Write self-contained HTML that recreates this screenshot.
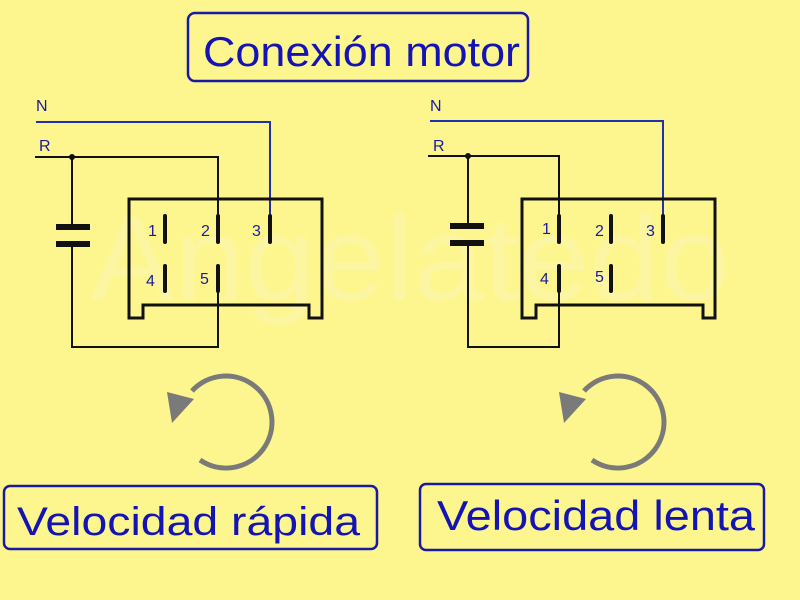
<!DOCTYPE html>
<html><head><meta charset="utf-8"><style>html,body{margin:0;padding:0;background:#fdf68e;}svg{display:block}</style></head><body>
<svg width="800" height="600" viewBox="0 0 800 600" xmlns="http://www.w3.org/2000/svg">
<rect width="800" height="600" fill="#fdf68e"/>
<text x="90" y="300" font-family="Liberation Sans, sans-serif" font-size="120" fill="#fcf6a2" textLength="640" lengthAdjust="spacingAndGlyphs">Angelatedo</text>
<!-- title -->
<rect x="188" y="13" width="340" height="68" rx="7" fill="none" stroke="#1a1aa0" stroke-width="2.5"/>
<text x="203" y="66" font-family="Liberation Sans, sans-serif" font-size="42" fill="#1414b4" textLength="317" lengthAdjust="spacingAndGlyphs">Conexión motor</text>
<g font-family="Liberation Sans, sans-serif" font-size="16" fill="#1a1aa0">
<text x="36" y="111">N</text><text x="39" y="151">R</text>
<text x="430" y="111">N</text><text x="433" y="151">R</text>
<text x="148" y="236">1</text><text x="201" y="236">2</text><text x="252" y="236">3</text>
<text x="146" y="286">4</text><text x="200" y="284">5</text>
<text x="542" y="234">1</text><text x="595" y="236">2</text><text x="646" y="236">3</text>
<text x="540" y="284">4</text><text x="595" y="282">5</text>
</g>
<g fill="none" stroke-width="2">
<path d="M36 122 H270 V215" stroke="#2030b0"/>
<path d="M35 157 H218 V217" stroke="#111"/>
<path d="M72 157 V227 M72 244 V347 H218 V291" stroke="#111"/>
<path d="M129 199 H322 V318 H309 V305 H143 V318 H129 Z" stroke="#111" stroke-width="3"/>
<path d="M430 121 H663 V215" stroke="#2030b0"/>
<path d="M428 156 H559 V217" stroke="#111"/>
<path d="M468 156 V227 M468 244 V347 H559 V291" stroke="#111"/>
<path d="M522 199 H715 V318 H703 V305 H536 V318 H522 Z" stroke="#111" stroke-width="3"/>
</g>
<g stroke="#111" stroke-width="4" stroke-linecap="round">
<path d="M165 216V242M218 216V242M270 216V242M165 266V291M218 266V291"/>
<path d="M559 216V242M611 216V242M663 216V242M559 266V291M611 266V291"/>
</g>
<g fill="#111">
<rect x="56" y="224" width="34" height="6"/><rect x="56" y="241" width="34" height="6"/>
<rect x="450" y="223" width="34" height="6"/><rect x="450" y="240" width="34" height="6"/>
<circle cx="72" cy="157" r="3"/><circle cx="468" cy="156" r="3"/>
</g>
<g fill="none" stroke="#7a7a7a" stroke-width="5">
<path d="M200 460 A46 46 0 1 0 192 391"/>
<path d="M592 460 A46 46 0 1 0 584 391"/>
</g>
<g fill="#7a7a7a">
<path d="M167 392 L194 399 L172 423 Z"/>
<path d="M559 392 L586 399 L564 423 Z"/>
</g>
<rect x="4" y="486" width="373" height="63" rx="6" fill="none" stroke="#1a1aa0" stroke-width="2.5"/>
<text x="17" y="535" font-family="Liberation Sans, sans-serif" font-size="40" fill="#1414b4" textLength="343" lengthAdjust="spacingAndGlyphs">Velocidad rápida</text>
<rect x="420" y="484" width="344" height="66" rx="6" fill="none" stroke="#1a1aa0" stroke-width="2.5"/>
<text x="437" y="530" font-family="Liberation Sans, sans-serif" font-size="42" fill="#1414b4" textLength="318" lengthAdjust="spacingAndGlyphs">Velocidad lenta</text>
</svg>
</body></html>
